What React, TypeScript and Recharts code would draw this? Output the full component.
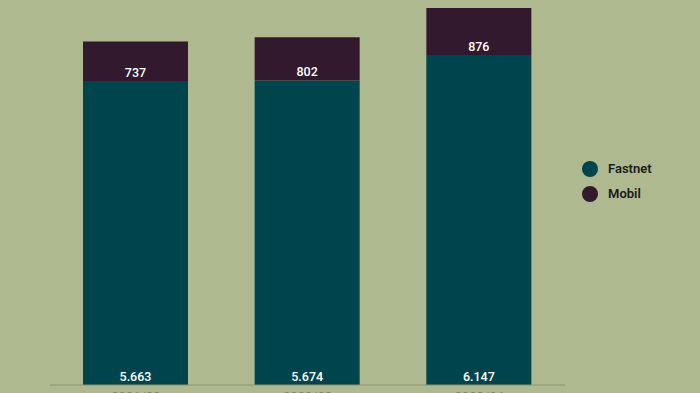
import React from "react";
import { BarChart, Bar, XAxis, YAxis, LabelList } from "recharts";

const categories = ["2021/22", "2022/23", "2023/24"];
const fastnet = [5663, 5674, 6147];
const mobil = [737, 802, 876];

const data = categories.map((c, i) => ({ name: c, Fastnet: fastnet[i], Mobil: mobil[i] }));

const fmt = (v: any) => Number(v).toLocaleString("da-DK");
const FONT = "Roboto, 'DejaVu Sans', sans-serif";

const legendItems = [
  { name: "Fastnet", color: "#00444d" },
  { name: "Mobil", color: "#33192d" },
];

const LegendBox = () => (
  <div style={{ position: "absolute", left: 582, top: 156, fontFamily: FONT }}>
    {legendItems.map((it) => (
      <div key={it.name} style={{ display: "flex", alignItems: "center", height: 25 }}>
        <span
          style={{
            width: 16,
            height: 16,
            borderRadius: 8,
            background: it.color,
            display: "inline-block",
            marginRight: 10,
          }}
        />
        <span style={{ fontSize: 13, fontWeight: 600, color: "#1a1a1a" }}>{it.name}</span>
      </div>
    ))}
  </div>
);

export default function App() {
  return (
    <div style={{ position: "absolute", left: 0, top: 0, width: 700, height: 393, background: "#afb98f", overflow: "hidden" }}>
      <BarChart
        width={700}
        height={393}
        data={data}
        margin={{ top: 8, right: 135, bottom: 0, left: 50 }}
      >
        <XAxis
          dataKey="name"
          axisLine={{ stroke: "#8a9270" }}
          tickLine={false}
          tickSize={0}
          tickMargin={7}
          height={8}
          tick={{ fill: "#7d8466", fontSize: 13, fontFamily: FONT }}
          interval={0}
        />
        <YAxis hide domain={[0, "dataMax"]} />
        <Bar dataKey="Fastnet" stackId="a" fill="#00444d" barSize={105} isAnimationActive={false}>
          <LabelList
            dataKey="Fastnet"
            position="insideBottom"
            offset={4}
            formatter={fmt}
            style={{ fill: "#ffffff", fontSize: 12.5, fontWeight: 500, fontFamily: FONT }}
          />
        </Bar>
        <Bar dataKey="Mobil" stackId="a" fill="#33192d" barSize={105} isAnimationActive={false}>
          <LabelList
            dataKey="Mobil"
            position="insideBottom"
            offset={4}
            formatter={fmt}
            style={{ fill: "#ffffff", fontSize: 12.5, fontWeight: 500, fontFamily: FONT }}
          />
        </Bar>
      </BarChart>
      <LegendBox />
    </div>
  );
}
